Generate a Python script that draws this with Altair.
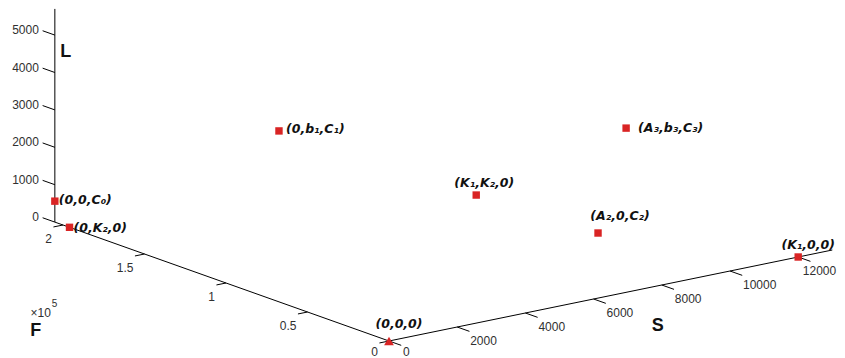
import altair as alt
import pandas as pd

# ---------------- data ----------------
point_labels = ["(0,0,0)", "(0,0,C₀)", "(0,K₂,0)", "(0,b₁,C₁)",
                "(K₁,K₂,0)", "(A₂,0,C₂)", "(A₃,b₃,C₃)", "(K₁,0,0)"]
point_S = [0, 0, 0, 0, 9250, 6130, 10180, 12000]
point_F = [0, 2.05, 1.96, 0.675, 1.40, 0, 0.675, 0]     # in units of 10^5
point_L = [0, 560, 0, 4570, 0, 1740, 2740, 0]
point_shape = ["triangle-up", "square", "square", "square",
               "square", "square", "square", "square"]

S_ticks = [0, 2000, 4000, 6000, 8000, 10000, 12000]
S_tick_labels = ["0", "2000", "4000", "6000", "8000", "10000", "12000"]
F_ticks = [0, 0.5, 1, 1.5, 2]
F_tick_labels = ["0", "0.5", "1", "1.5", "2"]
L_ticks = [0, 1000, 2000, 3000, 4000, 5000]
L_tick_labels = ["0", "1000", "2000", "3000", "4000", "5000"]

S_max, F_max, L_max = 13000, 2.05, 5700

# ---------------- 3-D view (orthographic projection) ----------------
ORIGIN = (389.0, 341.0)
E_S = (0.0341, -0.0070)
E_F = (-163.0, -58.0)
E_L = (0.0, -0.0374)


def proj(s, f, l):
    return (ORIGIN[0] + s * E_S[0] + f * E_F[0] + l * E_L[0],
            ORIGIN[1] + s * E_S[1] + f * E_F[1] + l * E_L[1])


W, H = 829, 350
XS = alt.Scale(domain=[8, 8 + W], nice=False, zero=False)
YS = alt.Scale(domain=[8, 8 + H], nice=False, zero=False, reverse=True)


def X(f):
    return alt.X(f, type="quantitative", scale=XS, axis=None)


def Y(f):
    return alt.Y(f, type="quantitative", scale=YS, axis=None)


# ---------------- axis lines and ticks ----------------
segs = []


def seg(a, b):
    (x1, y1), (x2, y2) = proj(*a), proj(*b)
    segs.append({"x": x1, "y": y1, "x2": x2, "y2": y2})


seg((0, 0, 0), (S_max, 0, 0))
seg((0, 0, 0), (0, F_max, 0))
seg((0, F_max, 0), (0, F_max, L_max))
for s in S_ticks:
    seg((s, 0, 0), (s, -0.075, 0))
for f in F_ticks:
    seg((0, f, 0), (-280, f, 0))
for l in L_ticks:
    seg((0, F_max, l), (0, F_max + 0.075, l))

seg_df = pd.DataFrame(segs)
rules = alt.Chart(seg_df).mark_rule(color="#000000", strokeWidth=1).encode(
    x=X("x"), y=Y("y"), x2="x2", y2="y2")


def lab_df(pts, texts):
    rows = []
    for p, t in zip(pts, texts):
        x, y = proj(*p)
        rows.append({"x": x, "y": y, "t": t})
    return pd.DataFrame(rows)


TICKFONT = dict(font="Liberation Sans", fontSize=12, color="#303030", baseline="middle")


def txt_layer(points, texts, **kw):
    return alt.Chart(lab_df(points, texts)).mark_text(**TICKFONT, **kw).encode(
        x=X("x"), y=Y("y"), text="t:N")


s_lab0 = txt_layer([(S_ticks[0], 0, 0)], S_tick_labels[:1], align="left", dx=14, dy=11)
s_lab = txt_layer([(s, 0, 0) for s in S_ticks[1:-1]], S_tick_labels[1:-1],
                  align="left", dx=13, dy=14)
s_lab_last = txt_layer([(S_ticks[-1], 0, 0)], S_tick_labels[-1:], align="right", dx=38, dy=14)
f_lab0 = txt_layer([(0, F_ticks[0], 0)], F_tick_labels[:1], align="right", dx=-11, dy=11)
f_lab = txt_layer([(0, f, 0) for f in F_ticks[1:]], F_tick_labels[1:],
                  align="right", dx=-11, dy=14)
l_lab = txt_layer([(0, F_max, l) for l in L_ticks], L_tick_labels, align="right", dx=-16, dy=-5)

# ---------------- axis titles ----------------
TITLEFONT = dict(font="Liberation Sans", fontSize=18, fontWeight="bold",
                 color="#111111", baseline="middle")
titles = []
for anchor, txt, dx, dy in [
    ((0, F_max, 4500), "L", 11, -2),
    ((8000, 0, 0), "S", -4, 41),
    ((0, F_max, 0), "F", -19, 109),
]:
    titles.append(alt.Chart(lab_df([anchor], [txt])).mark_text(
        align="center", dx=dx, dy=dy, **TITLEFONT).encode(x=X("x"), y=Y("y"), text="t:N"))
titles.append(alt.Chart(lab_df([(0, F_max, 0)], ["×10"])).mark_text(
    align="right", dx=-4, dy=91, font="Liberation Sans", fontSize=12, color="#303030",
    baseline="middle").encode(x=X("x"), y=Y("y"), text="t:N"))
titles.append(alt.Chart(lab_df([(0, F_max, 0)], ["5"])).mark_text(
    align="left", dx=-3, dy=82, font="Liberation Sans", fontSize=10, color="#303030",
    baseline="middle").encode(x=X("x"), y=Y("y"), text="t:N"))

# ---------------- points ----------------
pts = []
for lab, s, f, l, sh in zip(point_labels, point_S, point_F, point_L, point_shape):
    x, y = proj(s, f, l)
    pts.append({"x": x, "y": y, "label": lab, "shape": sh})
pts_df = pd.DataFrame(pts)

RED = "#d92424"
squares = alt.Chart(pts_df[pts_df["shape"] == "square"]).mark_point(
    shape="square", filled=True, size=55, color=RED, opacity=1).encode(x=X("x"), y=Y("y"))
tri = alt.Chart(pts_df[pts_df["shape"] == "triangle-up"]).mark_point(
    shape="triangle-up", filled=True, size=95, color=RED, opacity=1).encode(x=X("x"), y=Y("y"))

label_style = {
    "(0,0,0)": (10, -17, "center"),
    "(0,0,C₀)": (4, -1, "left"),
    "(0,K₂,0)": (4, 1, "left"),
    "(0,b₁,C₁)": (7, -2, "left"),
    "(K₁,K₂,0)": (8, -12, "center"),
    "(A₂,0,C₂)": (22, -17, "center"),
    "(A₃,b₃,C₃)": (12, 0, "left"),
    "(K₁,0,0)": (10, -12, "center"),
}
plabels = []
for lab in point_labels:
    dx, dy, al = label_style[lab]
    plabels.append(alt.Chart(pts_df[pts_df["label"] == lab]).mark_text(
        align=al, dx=dx, dy=dy, baseline="middle", font="DejaVu Sans", fontSize=12.5,
        fontWeight="bold", fontStyle="italic", color="#111111").encode(
        x=X("x"), y=Y("y"), text="label:N"))

chart = alt.layer(rules, s_lab0, s_lab, s_lab_last, f_lab0, f_lab, l_lab, *titles,
                  squares, tri, *plabels).properties(
    width=W, height=H, autosize=alt.AutoSizeParams(type="none"), padding=0,
    background="#ffffff").configure_view(strokeWidth=0)

chart.save("out.html", embed_options={"renderer": "svg", "actions": False})
